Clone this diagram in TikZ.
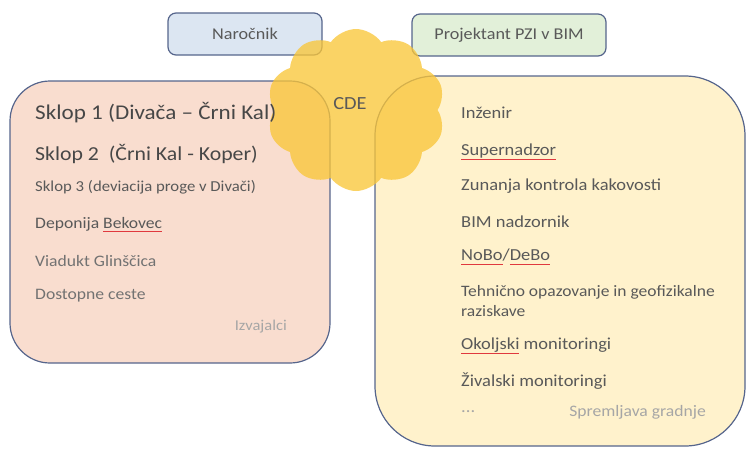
\documentclass[tikz,border=0pt]{standalone}
\usepackage{fontspec}
\setmainfont[FakeStretch=1.1]{Carlito}
\usetikzlibrary{shapes.symbols}
\definecolor{bordc}{HTML}{56658C}
\definecolor{leftfill}{HTML}{F9DDCF}
\definecolor{rightfill}{HTML}{FFF2CC}
\definecolor{clientfill}{HTML}{DCE6F2}
\definecolor{designfill}{HTML}{E2F0D9}
\definecolor{cloudc}{HTML}{F9C63A}
\definecolor{txt}{HTML}{595959}
\definecolor{txtdark}{HTML}{474747}
\definecolor{txtlight}{HTML}{A6A6A6}
\definecolor{ulred}{HTML}{E0393E}
\newsavebox\ulbox
\newcommand\redul[1]{\sbox\ulbox{#1}\rlap{\textcolor{ulred}{\rule[-0.22em]{\wd\ulbox}{0.07em}}}\usebox\ulbox}
\tikzset{
  bigbox/.style={draw=bordc, line width=1.2pt, inner sep=0pt},
  smallbox/.style={draw=bordc, line width=1.2pt, rounded corners=8pt, inner sep=0pt, text=txt},
  item/.style={anchor=west, inner sep=0pt, text=txt, font=\fontsize{16}{18}\selectfont},
  ritem/.style={anchor=west, inner sep=0pt, text=txt, font=\fontsize{16.8}{19}\selectfont},
  note/.style={anchor=east, inner sep=0pt, text=txtlight}
}
\begin{document}
\begin{tikzpicture}[x=1pt,y=-1pt]
\useasboundingbox (0,0) rectangle (747,448);
% boxes
\node[bigbox, fill=leftfill, minimum width=320pt, minimum height=282pt, rounded corners=40pt] (izv) at (170,222) {};
\node[bigbox, fill=rightfill, minimum width=370pt, minimum height=370pt, rounded corners=60pt] (spr) at (560,261) {};
\node[smallbox, fill=clientfill, minimum width=154pt, minimum height=42pt, font=\fontsize{16.5}{19}\selectfont] (nar) at (245,34) {Naročnik};
\node[smallbox, fill=designfill, minimum width=194pt, minimum height=42pt, font=\fontsize{16.5}{19}\selectfont] (pzi) at (509,35) {Projektant PZI v BIM};
% cloud
\node[cloud, cloud puffs=10, cloud puff arc=110, aspect=1.1, minimum width=178pt, minimum height=162pt, inner sep=0pt, fill=cloudc, fill opacity=0.78] (cloud) at (356,110) {};
\node[inner sep=0pt, text=txt, font=\fontsize{18.5}{22}\selectfont] (cde) at (350,104) {CDE};
% left items
\node[item, text=txtdark, font=\fontsize{21}{24}\selectfont] (s1) at (35,113) {Sklop 1 (Divača – Črni Kal)};
\node[item, text=txtdark, font=\fontsize{19.8}{23}\selectfont] (s2) at (35,154) {Sklop 2\ \ (Črni Kal - Koper)};
\node[item, font=\fontsize{15.2}{18}\selectfont] (s3) at (35,187) {Sklop 3 (deviacija proge v Divači)};
\node[item] (dep) at (35,225) {Deponija \redul{Bekovec}};
\node[item, text=txt!85] (via) at (35,261) {Viadukt Glinščica};
\node[item, text=txt!85] (dos) at (35,296) {Dostopne ceste};
\node[note, font=\fontsize{15}{18}\selectfont] (izvl) at (287,327) {Izvajalci};
% right items
\node[ritem] (r1) at (461,113) {Inženir};
\node[ritem] (r2) at (461,152) {\redul{Supernadzor}};
\node[ritem] (r3) at (461,186) {Zunanja kontrola kakovosti};
\node[ritem] (r4) at (461,222) {BIM nadzornik};
\node[ritem] (r5) at (461,257) {\redul{NoBo}/\redul{DeBo}};
\node[ritem, font=\fontsize{15.9}{20}\selectfont, align=left] (r6) at (461,301) {Tehnično opazovanje in geofizikalne\\raziskave};
\node[ritem] (r7) at (461,346) {\redul{Okoljski} monitoringi};
\node[ritem] (r8) at (461,381) {Živalski monitoringi};
\node[ritem, text=txtlight] (r9) at (461,412) {...};
\node[note, font=\fontsize{16}{19}\selectfont] (sprl) at (706,412) {Spremljava gradnje};
\end{tikzpicture}
\end{document}
